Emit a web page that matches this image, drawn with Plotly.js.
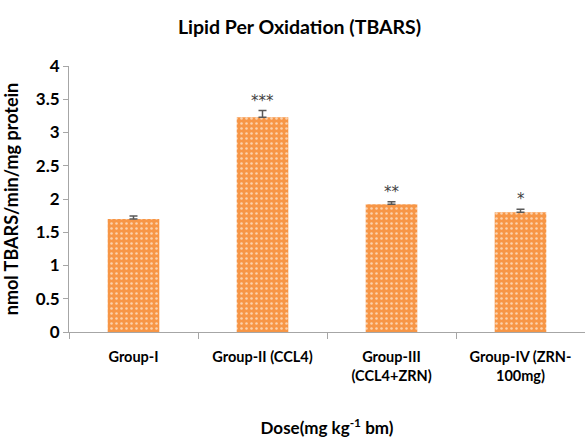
<!DOCTYPE html>
<html>
<head>
<meta charset="utf-8">
<script src="https://cdn.plot.ly/plotly-3.0.1.min.js"></script>
<style>html,body{margin:0;padding:0;background:#fff;}#chart{width:585px;height:438px;}</style>
</head>
<body>
<div id="chart"></div>
<script>
var categories = ["Group-I", "Group-II (CCL4)", "Group-III<br>(CCL4+ZRN)", "Group-IV (ZRN-<br>100mg)"];
var values = [1.70, 3.23, 1.92, 1.80];
var errors = [0.045, 0.10, 0.04, 0.045];
var significance = ["", "***", "**", "*"];
var yTicks = [0, 0.5, 1, 1.5, 2, 2.5, 3, 3.5, 4];

var FONT = "Lato, 'Open Sans', sans-serif";

var trace = {
  type: "bar",
  x: categories,
  y: values,
  error_y: {type: "data", symmetric: false, array: errors, arrayminus: errors.map(function(){return 0;}),
            visible: true, color: "#595959", thickness: 1.5, width: 4},
  marker: {
    color: "#F79646",
    line: {width: 0},
    pattern: {shape: ".", fgcolor: "#FCD2AE", bgcolor: "#F79646", size: 5, solidity: 0.2}
  },
  hoverinfo: "none"
};

var annotations = [];
for (var i = 0; i < categories.length; i++) {
  if (significance[i]) {
    annotations.push({
      x: categories[i], y: values[i] + errors[i], xref: "x", yref: "y",
      text: significance[i], showarrow: false, yanchor: "middle", yshift: 10,
      font: {family: "'DejaVu Sans', sans-serif", size: 15, color: "#404040"}
    });
  }
}

var layout = {
  width: 585, height: 438,
  margin: {l: 69, r: 0, t: 66, b: 106},
  paper_bgcolor: "#ffffff", plot_bgcolor: "#ffffff",
  bargap: 0.6,
  showlegend: false,
  title: {
    text: "<b>Lipid Per Oxidation (TBARS)</b>",
    font: {family: FONT, size: 19.5, color: "#000000"},
    x: 0.512, xanchor: "center", y: 0.938, yanchor: "middle"
  },
  xaxis: {
    type: "category",
    showline: true, linecolor: "#A6A6A6", linewidth: 1,
    ticks: "outside", tickson: "boundaries", ticklen: 6, tickcolor: "#A6A6A6",
    ticklabelstandoff: 12,
    tickvals: categories, ticktext: categories.map(function(c){return "<b>" + c.replace("<br>", "</b><br><b>") + "</b>";}),
    tickfont: {family: FONT, size: 14.5, color: "#000000"},
    showgrid: false, zeroline: false,
    title: {text: "<b>Dose(mg kg<sup>-1</sup> bm)</b>", font: {family: FONT, size: 17, color: "#000000"}, standoff: 47}
  },
  yaxis: {
    range: [0, 4], tickvals: yTicks, ticktext: yTicks.map(function(v){return "<b>" + v + "</b>";}),
    showline: true, linecolor: "#A6A6A6", linewidth: 1,
    ticks: "outside", ticklen: 5, tickcolor: "#A6A6A6",
    tickfont: {family: FONT, size: 17, color: "#000000"},
    showgrid: false, zeroline: false,
    title: {text: "<b>nmol TBARS/min/mg protein</b>", font: {family: FONT, size: 18, color: "#000000"}, standoff: 12}
  },
  annotations: annotations
};

Plotly.newPlot("chart", [trace], layout, {displayModeBar: false, staticPlot: true});
</script>
</body>
</html>
